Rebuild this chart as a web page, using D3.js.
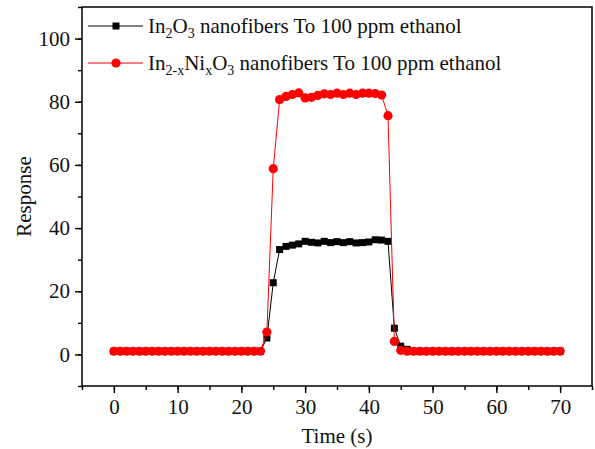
<!DOCTYPE html>
<html>
  <head>
      <script type="text/javascript" src="https://cdn.jsdelivr.net/npm/d3@7"></script>
      <style>
        body { margin: 0; background: #fff; }
        text { font-family: "Liberation Serif", "Times New Roman", serif; fill: #111; }
      </style>
  </head>
  <body>
      <svg width="595" height="449"></svg>
      <script>
          // time in seconds, one sample per second
          var time = [0,1,2,3,4,5,6,7,8,9,10,11,12,13,14,15,16,17,18,19,20,21,22,23,24,25,26,27,28,29,30,
                      31,32,33,34,35,36,37,38,39,40,41,42,43,44,45,46,47,48,49,50,51,52,53,54,55,56,57,58,59,60,
                      61,62,63,64,65,66,67,68,69,70]
          // In2O3 nanofibers
          var pureIn = [1,1,1,1,1,1,1,1,1,1,1,1,1,1,1,1,1,1,1,1,1,1,1,1,5.2,22.7,33.2,34.2,34.6,35.0,35.8,
                        35.5,35.3,35.8,35.4,35.7,35.4,35.7,35.3,35.4,35.6,36.3,36.2,35.8,8.3,2.6,1.6,1,1,1,1,
                        1,1,1,1,1,1,1,1,1,1,1,1,1,1,1,1,1,1,1,1]
          // In2-xNixO3 nanofibers
          var niDoped = [1,1,1,1,1,1,1,1,1,1,1,1,1,1,1,1,1,1,1,1,1,1,1,1,7.1,58.8,80.7,81.7,82.3,82.8,81.2,
                         81.4,82.0,82.5,82.3,82.7,82.3,82.7,82.3,82.7,82.7,82.6,82.1,75.6,4.1,1.3,1,1,1,1,1,
                         1,1,1,1,1,1,1,1,1,1,1,1,1,1,1,1,1,1,1,1]
          var xTicks = [0,10,20,30,40,50,60,70]
          var yTicks = [0,20,40,60,80,100]

          var svg = d3.select('svg')
          var pLeft = 82, pRight = 592, pTop = 7, pBottom = 386

          var x = d3.scaleLinear().domain([-5, 75]).range([pLeft, pRight])
          var y = d3.scaleLinear().domain([-10, 110]).range([pBottom, pTop])

          // minor ticks (x every 5, y every 10)
          svg.append('g').attr('transform', 'translate(0,' + pBottom + ')')
             .call(d3.axisBottom(x).tickValues(d3.range(-5, 76, 5)).tickSize(4).tickFormat(''))
          svg.append('g').attr('transform', 'translate(' + pLeft + ',0)')
             .call(d3.axisLeft(y).tickValues(d3.range(-10, 111, 10)).tickSize(4).tickFormat(''))

          // major ticks
          svg.append('g').attr('transform', 'translate(0,' + pBottom + ')')
             .call(d3.axisBottom(x).tickValues(xTicks).tickSize(7).tickPadding(6))
          svg.append('g').attr('transform', 'translate(' + pLeft + ',0)')
             .call(d3.axisLeft(y).tickValues(yTicks).tickSize(7).tickPadding(5))
          svg.selectAll('.domain').remove()
          svg.selectAll('.tick line').attr('stroke', '#000').attr('stroke-width', 1.4)
          svg.selectAll('.tick text').attr('font-size', 21).attr('font-family', '"Liberation Serif", serif').attr('fill', '#111')

          // frame
          svg.append('rect')
             .attr('x', pLeft).attr('y', pTop)
             .attr('width', pRight - pLeft).attr('height', pBottom - pTop)
             .attr('fill', 'none').attr('stroke', '#000').attr('stroke-width', 1.5)

          // axis titles
          svg.append('text')
             .attr('x', (pLeft + pRight) / 2).attr('y', 443)
             .attr('text-anchor', 'middle').attr('font-size', 21)
             .text('Time (s)')
          svg.append('text')
             .attr('transform', 'translate(31,' + (pTop + pBottom) / 2 + ') rotate(-90)')
             .attr('text-anchor', 'middle').attr('font-size', 21)
             .text('Response')

          var line = d3.line()
             .x(function(d){ return x(d[0]) })
             .y(function(d){ return y(d[1]) })

          var black = d3.zip(time, pureIn)
          var red = d3.zip(time, niDoped)

          svg.append('path').datum(black)
             .attr('d', line).attr('fill', 'none').attr('stroke', '#000').attr('stroke-width', 1)
          svg.selectAll('rect.sq').data(black).enter().append('rect')
             .attr('class', 'sq')
             .attr('x', function(d){ return x(d[0]) - 3.5 })
             .attr('y', function(d){ return y(d[1]) - 3.5 })
             .attr('width', 7).attr('height', 7).attr('fill', '#000')

          svg.append('path').datum(red)
             .attr('d', line).attr('fill', 'none').attr('stroke', '#f00').attr('stroke-width', 1)
          svg.selectAll('circle.dot').data(red).enter().append('circle')
             .attr('class', 'dot')
             .attr('cx', function(d){ return x(d[0]) })
             .attr('cy', function(d){ return y(d[1]) })
             .attr('r', 4.6).attr('fill', '#f00')

          // legend
          var lg = svg.append('g')
          lg.append('line').attr('x1', 88).attr('x2', 143).attr('y1', 26).attr('y2', 26)
            .attr('stroke', '#000').attr('stroke-width', 1)
          lg.append('rect').attr('x', 112.5).attr('y', 22.5).attr('width', 7).attr('height', 7).attr('fill', '#000')
          lg.append('line').attr('x1', 88).attr('x2', 143).attr('y1', 63).attr('y2', 63)
            .attr('stroke', '#f00').attr('stroke-width', 1)
          lg.append('circle').attr('cx', 116).attr('cy', 63).attr('r', 4.6).attr('fill', '#f00')

          var t1 = lg.append('text').attr('x', 148).attr('y', 33).attr('font-size', 21)
          t1.append('tspan').text('In')
          t1.append('tspan').attr('font-size', 14).attr('dy', 5).text('2')
          t1.append('tspan').attr('dy', -5).text('O')
          t1.append('tspan').attr('font-size', 14).attr('dy', 5).text('3')
          t1.append('tspan').attr('dy', -5).text(' nanofibers To 100 ppm ethanol')

          var t2 = lg.append('text').attr('x', 148).attr('y', 70).attr('font-size', 21)
          t2.append('tspan').text('In')
          t2.append('tspan').attr('font-size', 14).attr('dy', 5).text('2-x')
          t2.append('tspan').attr('dy', -5).text('Ni')
          t2.append('tspan').attr('font-size', 14).attr('dy', 5).text('x')
          t2.append('tspan').attr('dy', -5).text('O')
          t2.append('tspan').attr('font-size', 14).attr('dy', 5).text('3')
          t2.append('tspan').attr('dy', -5).text(' nanofibers To 100 ppm ethanol')
      </script>
  </body>
</html>
